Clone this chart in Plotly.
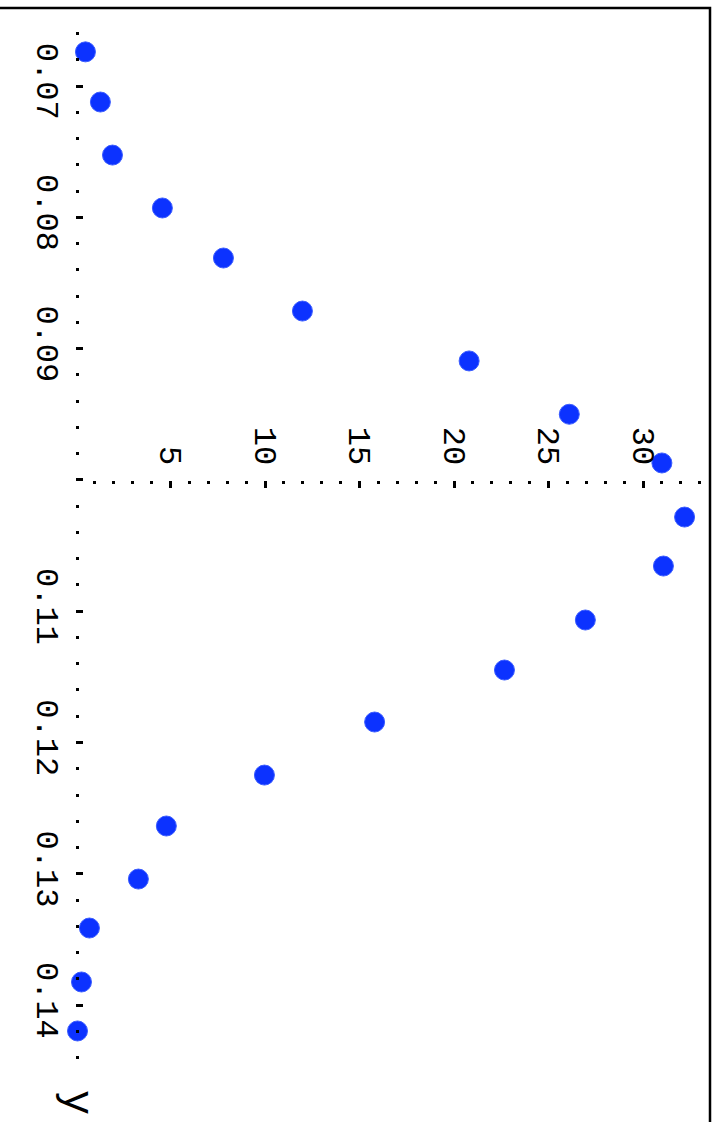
import plotly.graph_objects as go

# Observations: x position and y value of each sample
x_vals = [0.5, 1.29, 1.93, 4.57, 7.80, 11.98, 20.8, 26.1, 31.0, 32.2,
          31.08, 26.95, 22.67, 15.8, 9.97, 4.78, 3.3, 0.71, 0.29, 0.08]
y_vals = [0.0674, 0.07122, 0.07526, 0.07929, 0.0831, 0.08714, 0.09094, 0.0950,
          0.09871, 0.10283, 0.10656, 0.11067, 0.11448, 0.11844, 0.12248,
          0.12636, 0.1304, 0.13413, 0.13824, 0.14197]

x_ticks = [5, 10, 15, 20, 25, 30]
x_tick_text = ["5", "10", "15", "20", "25", "30"]
y_ticks = [0.07, 0.08, 0.09, 0.11, 0.12, 0.13, 0.14]
y_tick_text = ["0.07", "0.08", "0.09", "0.11", "0.12", "0.13", "0.14"]
y_title = "y"

W, H = 715, 1122
M_L, M_R, M_T, M_B = 76, 5, 8, 62
X_RANGE = [0, 33.545]
Y_RANGE = [0.144181, 0.064059]   # top of plot shows the smaller values
X_AXIS_AT = 0.10                  # horizontal axis crosses the vertical one here

plot_h = H - M_T - M_B
x_axis_pos = (Y_RANGE[0] - X_AXIS_AT) / (Y_RANGE[0] - Y_RANGE[1])

FONT = "Liberation Mono"
BLUE = "#0c32ff"
TICK_SIZE = 32

fig = go.Figure()
fig.add_trace(go.Scatter(
    x=x_vals, y=y_vals, mode="markers",
    marker=dict(size=20, color=BLUE, line=dict(width=1, color="#3a5cff")),
    cliponaxis=False, showlegend=False,
))

fig.update_layout(
    width=W, height=H,
    margin=dict(l=M_L, r=M_R, t=M_T, b=M_B),
    paper_bgcolor="white", plot_bgcolor="white",
    font=dict(family=FONT, color="black", size=TICK_SIZE),
    xaxis=dict(
        range=X_RANGE, anchor="free", position=x_axis_pos, side="top",
        showgrid=False, zeroline=False, showline=False,
        tickmode="array", tickvals=[0] + x_ticks, ticktext=[""] + x_tick_text,
        ticks="inside", ticklen=7, tickwidth=3, tickcolor="black",
        tickangle=90, ticklabelstandoff=10,
        tickfont=dict(family=FONT, size=TICK_SIZE, color="black"),
        minor=dict(dtick=1, tick0=0, ticks="inside", ticklen=3, tickwidth=3,
                   tickcolor="black", showgrid=False),
    ),
    yaxis=dict(
        range=Y_RANGE, anchor="x", side="left",
        showgrid=False, zeroline=False, showline=False,
        tickmode="array", tickvals=[X_AXIS_AT] + y_ticks, ticktext=[""] + y_tick_text,
        ticks="inside", ticklen=7, tickwidth=3, tickcolor="black",
        tickangle=90, ticklabelstandoff=6,
        tickfont=dict(family=FONT, size=TICK_SIZE, color="black"),
        minor=dict(dtick=0.002, tick0=0, ticks="inside", ticklen=3, tickwidth=3,
                   tickcolor="black", showgrid=False),
    ),
    shapes=[dict(
        type="rect", xref="paper", yref="paper",
        x0=-0.3, x1=1.0, y0=-0.2, y1=1.0,
        line=dict(color="black", width=2.5), fillcolor="rgba(0,0,0,0)",
        layer="above",
    )],
    annotations=[dict(
        text=y_title, xref="x", yref="paper", x=0,
        y=-(1102 - (H - M_B)) / plot_h,
        showarrow=False, textangle=90,
        font=dict(family=FONT, size=42, color="black"),
        xanchor="center", yanchor="middle",
    )],
)

fig.write_html("out.html")
